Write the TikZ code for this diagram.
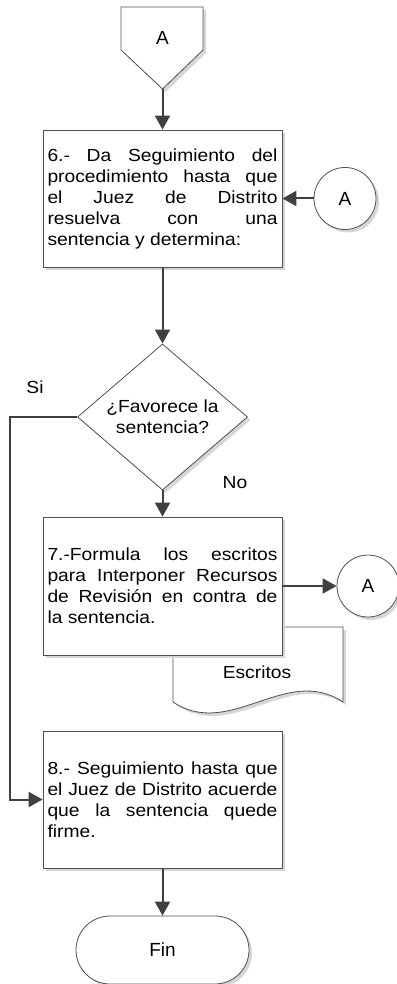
\documentclass[tikz,border=0pt]{standalone}
\usepackage{fontspec}
\setmainfont{Liberation Sans}[FakeStretch=1.1]
\newfontfamily\lblfont{Liberation Sans}
\usetikzlibrary{arrows.meta,shapes.geometric,shadows}
\definecolor{linec}{HTML}{404040}
\definecolor{shapec}{HTML}{505050}
\definecolor{shadowc}{HTML}{D6D6D6}
\tikzset{
  shp/.style={draw=shapec, line width=0.8pt, fill=white,
    drop shadow={shadow xshift=3pt, shadow yshift=-3pt, fill=shadowc, opacity=1}},
  boxfont/.style={font=\fontsize{17.5}{21}\selectfont},
  bigfont/.style={font=\lblfont\fontsize{19}{22}\selectfont},
  procbox/.style={shp, boxfont, rectangle, text width=230pt, align=justify,
    inner sep=0pt, minimum width=239pt,
    execute at begin node={\parindent=0pt\hyphenpenalty=10000\exhyphenpenalty=10000\tolerance=10000}},
  conn/.style={draw=linec, line width=2pt, -{Triangle[length=14pt,width=15pt]}},
  plain/.style={boxfont, inner sep=0pt}
}
\begin{document}
\begin{tikzpicture}[x=1pt,y=-1pt]
\useasboundingbox (0,0) rectangle (396,984);

% off-page connector
\draw[shp] (121,7) -- (203,7) -- (203,50) -- (162.5,89) -- (121,50) -- cycle;
\node[bigfont, inner sep=0pt] (offA) at (162.5,38) {A};
\coordinate (offAtip) at (162.5,89);

% step 6
\node[procbox, minimum height=137pt] (b6) at (162.5,198.5)
  {6.- Da Seguimiento del\linebreak procedimiento hasta que\linebreak el Juez de Distrito\linebreak resuelva con una\linebreak sentencia y determina:};
\node[shp, circle, minimum size=62pt, inner sep=0pt, bigfont] (cA1) at (345,198.5) {A};

% decision
\node[shp, diamond, minimum width=170pt, minimum height=102pt, inner sep=0pt,
  align=center, boxfont] (dec) at (162.5,417) {¿Favorece la\\sentencia?};
\node[plain] (si) at (35,387) {Si};
\node[plain] (no) at (235,483) {No};
\coordinate (siturn) at (10,417);

% document
\draw[shp] (173,627) -- (343,627) -- (343,702)
  .. controls (286,664) and (230,740) .. (173,702) -- cycle;
\node[plain] (doc) at (257,672) {Escritos};

% step 7
\node[procbox, minimum height=138pt] (b7) at (162.5,586)
  {7.-Formula los escritos\linebreak para Interponer Recursos\linebreak de Revisión en contra de\linebreak la sentencia.};
\node[shp, circle, minimum size=62pt, inner sep=0pt, bigfont] (cA2) at (368,586) {A};

% step 8
\node[procbox, minimum height=137pt] (b8) at (162.5,799.5)
  {8.- Seguimiento hasta que\linebreak el Juez de Distrito acuerde\linebreak que la sentencia quede\linebreak firme.};

% end
\node[shp, rectangle, rounded corners=34pt, minimum width=173pt, minimum height=68pt,
  inner sep=0pt, bigfont] (fin) at (162.5,950) {Fin};

% connectors
\draw[conn] (offAtip) -- (b6.north);
\draw[conn] (cA1.west) -- (b6.east);
\draw[conn] (b6.south) -- (dec.north);
\draw[conn] (dec.south) -- (b7.north);
\draw[conn] (b7.east) -- (cA2.west);
\draw[conn] (dec.west) -- (siturn) |- (b8.west);
\draw[conn] (b8.south) -- (fin.north);
\end{tikzpicture}
\end{document}
